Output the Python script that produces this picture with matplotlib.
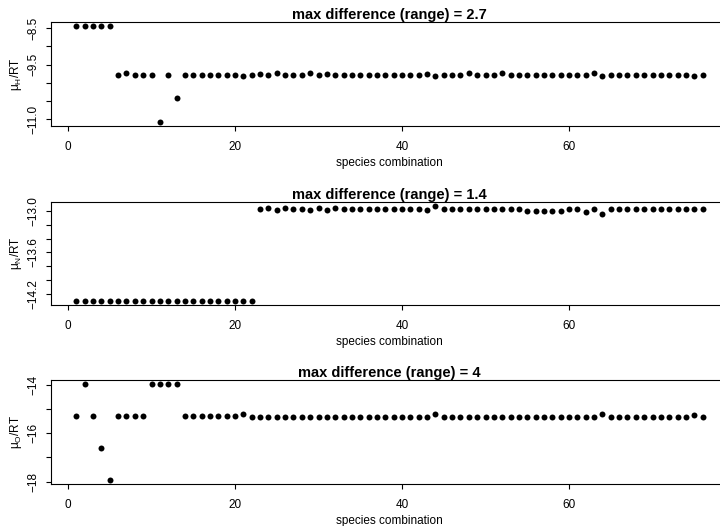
import numpy as np
import matplotlib.pyplot as plt

plt.rcParams['font.family'] = ['Liberation Sans', 'DejaVu Sans']
plt.rcParams['mathtext.fontset'] = 'custom'
plt.rcParams['mathtext.rm'] = 'Liberation Sans'
plt.rcParams['mathtext.default'] = 'regular'

# species combination index
combo = np.arange(1, 77)

# chemical potentials (mu / RT) for each combination
mu_H = ([-8.43] * 5
        + [-9.78, -9.73, -9.78, -9.78, -9.78, -11.08, -9.78, -10.43]
        + [-9.78] * 7
        + [-9.82, -9.78, -9.76, -9.78, -9.74, -9.78, -9.78, -9.78, -9.74, -9.78, -9.76]
        + [-9.78] * 11
        + [-9.76, -9.82, -9.78, -9.78, -9.78, -9.74, -9.78, -9.78, -9.78, -9.74]
        + [-9.78] * 10
        + [-9.74, -9.82]
        + [-9.78] * 10
        + [-9.81, -9.80])

mu_N = ([-14.31] * 22
        + [-12.97, -12.96, -12.99, -12.96, -12.97, -12.97, -12.99, -12.96, -12.99, -12.96]
        + [-12.97] * 10
        + [-12.985, -12.92]
        + [-12.97] * 10
        + [-12.995] * 5
        + [-12.97, -12.97, -13.01, -12.97, -13.04]
        + [-12.97] * 12)

mu_O = ([-15.30, -13.97, -15.30, -16.60, -17.95, -15.30, -15.30, -15.30, -15.30,
         -13.97, -13.97, -13.97, -13.97]
        + [-15.28] * 7
        + [-15.22]
        + [-15.32] * 22
        + [-15.22]
        + [-15.33] * 18
        + [-15.34, -15.22]
        + [-15.32] * 10
        + [-15.24, -15.32])

series = [mu_H, mu_N, mu_O]
ylabels = ['μ$_H$/RT', 'μ$_N$/RT', 'μ$_O$/RT']
titles = ['max difference (range) = 2.7',
          'max difference (range) = 1.4',
          'max difference (range) = 4']
yticks = [[-8.5, -9.0, -9.5, -10.0, -10.5, -11.0],
          [-13.0, -13.2, -13.4, -13.6, -13.8, -14.0, -14.2],
          [-14, -15, -16, -17, -18]]
yticklabels = [['\u22128.5', '', '\u22129.5', '', '', '\u221211.0'],
               ['\u221213.0', '', '', '\u221213.6', '', '', '\u221214.2'],
               ['\u221214', '', '\u221216', '', '\u221218']]
xticks = [0, 20, 40, 60]

fig = plt.figure(figsize=(7.2, 5.26), dpi=100)

# panel boxes in pixels (top, bottom); the plot region runs past the right edge
panels = [(21.7, 126.0), (201.7, 305.0), (380.0, 484.3)]
left_px, right_px = 51.3, 727.7
W, H = 720, 526

for i, vals in enumerate(series):
    top, bot = panels[i]
    ax = fig.add_axes([left_px / W, 1 - bot / H, (right_px - left_px) / W, (bot - top) / H])
    ax.plot(combo, vals, 'o', color='black', ms=4.3, mew=0)

    # R-style 4% axis expansion
    lo, hi = min(vals), max(vals)
    r = hi - lo
    ax.set_ylim(lo - 0.04 * r, hi + 0.04 * r)
    ax.set_xlim(-2, 79)

    ax.set_xticks(xticks)
    ax.set_yticks(yticks[i])
    ax.set_yticklabels(yticklabels[i], rotation=90, va='center')
    ax.tick_params(direction='out', length=3.6, width=0.8, labelsize=8.5, colors='black')
    ax.tick_params(axis='x', pad=7)
    ax.tick_params(axis='y', pad=5)
    for sp in ax.spines.values():
        sp.set_linewidth(0.8)

    ax.set_title(titles[i], fontsize=10.5, fontweight='bold', pad=2)
    ax.annotate('species combination', xy=(0.5, 0), xycoords='axes fraction',
                xytext=(0, -37), textcoords='offset pixels',
                ha='center', va='center', fontsize=8.5)
    ax.annotate(ylabels[i], xy=(0, 0.5), xycoords='axes fraction',
                xytext=(-35, 0), textcoords='offset pixels',
                ha='center', va='center', rotation=90, fontsize=8.5)

fig.savefig('out.png', dpi=100)
